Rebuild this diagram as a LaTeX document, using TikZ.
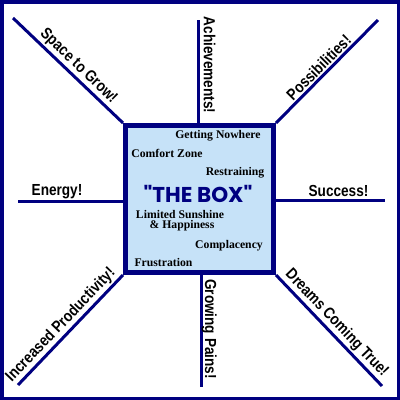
\documentclass[tikz,border=0pt]{standalone}
\usepackage{fontspec}
\setmainfont{Liberation Serif}
\newfontfamily\labfont[FakeStretch=0.85]{Liberation Sans}
\newfontfamily\boxfont{Poppins}
\definecolor{navy}{RGB}{0,0,128}
\definecolor{boxfill}{RGB}{198,226,248}
\begin{document}
\begin{tikzpicture}[x=1pt,y=-1pt,
  ray/.style={draw=navy, line width=3pt},
  lab/.style={font=\labfont\bfseries\fontsize{16}{16}\selectfont, text=black, inner sep=1.5pt},
  inbox/.style={font=\bfseries\fontsize{11.7}{12}\selectfont, anchor=base, inner sep=0pt, text=black}]
\useasboundingbox (0,0) rectangle (400,400);
\draw[navy, line width=3.5pt] (1.75,1.75) rectangle (398.25,398.25);
% central box
\node[draw=navy, line width=5pt, fill=boxfill, minimum width=148pt, minimum height=147pt, inner sep=0pt] (box) at (199.5,199) {};
% end points
\coordinate (sg) at (13,18);
\coordinate (ps) at (378,20);
\coordinate (ip) at (18,385);
\coordinate (dc) at (382,386);
\coordinate (ac) at (198,20);
\coordinate (gp) at (201.5,387);
\coordinate (en) at (18,201.5);
\coordinate (su) at (385,200.3);
% diagonal rays
\draw[ray] (sg) -- (box.north west) node[lab, sloped, above, pos=.53] (lsg) {Space to Grow!};
\draw[ray] (box.north east) -- (ps) node[lab, sloped, above, pos=.48] (lps) {Possibilities!};
\draw[ray] (ip) -- (box.south west) node[lab, sloped, above, pos=.48] (lip) {Increased Productivity!};
\draw[ray] (box.south east) -- (dc) node[lab, sloped, above, pos=.5] (ldc) {Dreams Coming True!};
% straight rays
\draw[ray] (ac) -- (ac |- box.north);
\draw[ray] (gp |- box.south) -- (gp);
\draw[ray] (en) -- (en -| box.west);
\draw[ray] (su -| box.east) -- (su);
\node[lab, rotate=-90, anchor=base] (lac) at (204,65) {Achievements!};
\node[lab, rotate=-90, anchor=base] (lgp) at (205,329) {Growing Pains!};
\node[lab, anchor=base] (len) at (57,195.5) {Energy!};
\node[lab, anchor=base] (lsu) at (338.5,196.5) {Success!};
% inside texts
\node[inbox] (t1) at (218,138) {Getting Nowhere};
\node[inbox] (t2) at (167,157.5) {Comfort Zone};
\node[inbox] (t3) at (235,175) {Restraining};
\node[inbox, font=\boxfont\bfseries\fontsize{21.5}{21.5}\selectfont, text=navy] (t4) at (198,202) {"THE BOX"};
\node[inbox] (t5) at (180,218.5) {Limited Sunshine};
\node[inbox] (t6) at (182,228) {\& Happiness};
\node[inbox] (t7) at (229,248.3) {Complacency};
\node[inbox] (t8) at (163.5,266) {Frustration};
\end{tikzpicture}
\end{document}
